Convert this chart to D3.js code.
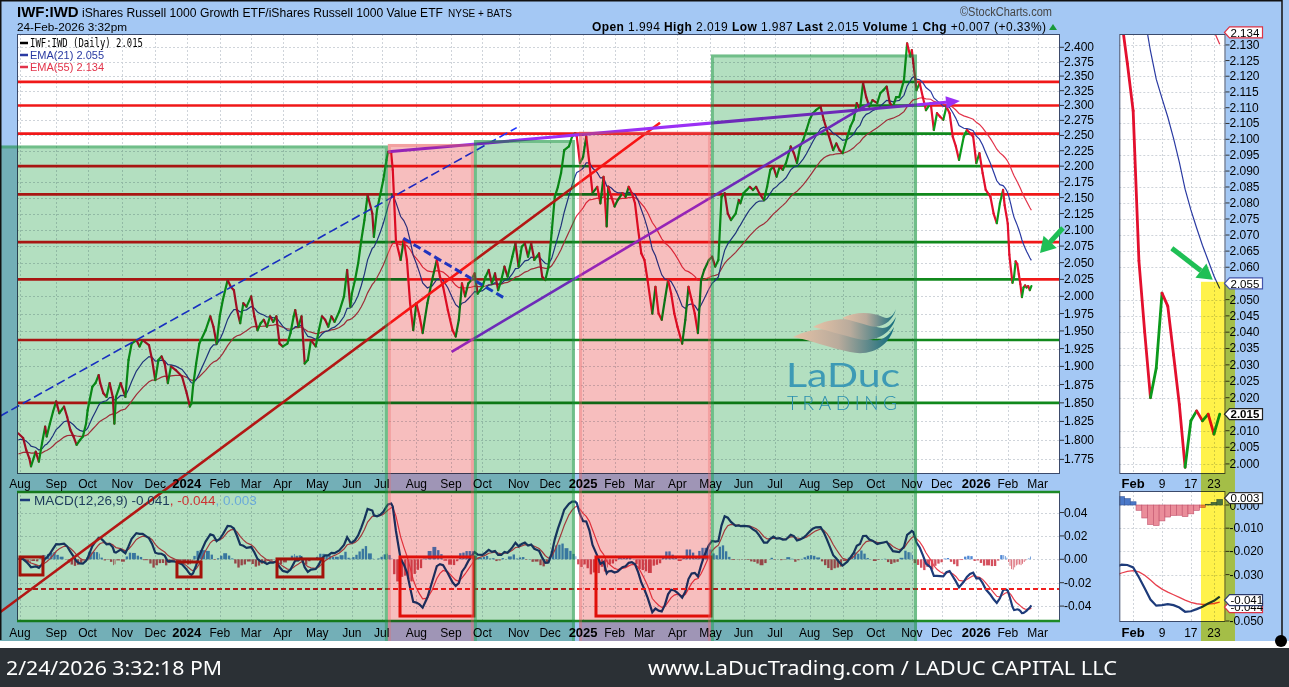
<!DOCTYPE html>
<html><head><meta charset="utf-8">
<script src="https://cdn.jsdelivr.net/npm/d3@7/dist/d3.min.js"></script>
<style>
html,body{margin:0;padding:0;background:#fff;}
svg{display:block;font-family:"Liberation Sans",Arial,sans-serif;}
</style></head>
<body><svg id="chart" width="1289" height="687"></svg>
<script>
// ======================= DATA =======================
// [trading-day index (0 = 1-Aug-2023), IWF:IWD close]
const ratioCloses = [[-1,1.809],[2,1.803],[4,1.787],[6,1.776],[7,1.766],[10,1.785],[12,1.772],[14,1.796],[16,1.818],[17,1.805],
[19,1.822],[21,1.838],[23,1.852],[25,1.836],[28,1.845],[30,1.831],[32,1.814],[34,1.805],[36,1.794],[38,1.800],
[40,1.805],[42,1.822],[43,1.840],[46,1.872],[48,1.877],[50,1.888],[51,1.877],[53,1.863],[55,1.858],[57,1.877],
[59,1.858],[60,1.822],[61,1.858],[64,1.877],[67,1.858],[69,1.909],[71,1.932],[74,1.937],[76,1.928],[78,1.937],
[82,1.930],[84,1.909],[86,1.881],[88,1.909],[90,1.914],[92,1.904],[94,1.877],[96,1.900],[99,1.895],[103,1.886],
[106,1.863],[108,1.845],[109,1.849],[110,1.872],[112,1.904],[114,1.932],[118,1.951],[121,1.971],[123,1.956],[125,1.932],
[127,1.971],[129,1.995],[132,2.024],[134,2.014],[136,2.009],[138,1.980],[140,1.961],[142,1.990],[144,1.985],[147,2.000],
[149,1.971],[151,1.951],[153,1.961],[155,1.966],[157,1.956],[159,1.971],[161,1.963],[163,1.971],[165,1.932],[167,1.928],
[170,1.932],[172,1.947],[174,1.971],[175,1.980],[177,1.956],[179,1.971],[181,1.904],[183,1.909],[185,1.937],[188,1.928],
[190,1.951],[192,1.971],[194,1.966],[196,1.956],[198,1.971],[200,1.963],[203,1.978],[206,2.000],[208,2.039],[210,1.985],
[211,2.004],[213,2.024],[215,2.049],[217,2.084],[219,2.115],[221,2.154],[224,2.125],[225,2.089],[227,2.131],[229,2.154],
[231,2.178],[233,2.210],[234,2.223],[236,2.221],[237,2.194],[239,2.084],[242,2.054],[244,2.084],[246,2.054],[248,1.990],
[250,1.951],[252,1.990],[254,1.971],[256,1.947],[259,1.990],[262,2.024],[265,2.054],[267,2.029],[269,2.014],[272,1.980],
[275,1.951],[277,1.942],[279,1.966],[281,2.019],[283,2.000],[285,2.019],[287,2.024],[289,2.034],[291,2.004],[294,2.014],
[296,2.029],[298,2.039],[300,2.019],[302,2.034],[304,2.009],[306,2.024],[308,2.044],[310,2.029],[313,2.059],[315,2.079],
[317,2.044],[319,2.074],[321,2.079],[323,2.059],[325,2.079],[327,2.054],[330,2.064],[332,2.029],[334,2.024],[336,2.044],
[338,2.095],[340,2.151],[342,2.167],[344,2.189],[346,2.226],[349,2.232],[351,2.248],[353,2.254],[354,2.248],[356,2.205],
[358,2.215],[360,2.248],[362,2.205],[364,2.157],[367,2.167],[369,2.141],[371,2.183],[373,2.105],[374,2.167],[376,2.151],
[378,2.136],[380,2.146],[383,2.157],[385,2.151],[387,2.167],[389,2.157],[391,2.141],[393,2.100],[395,2.064],[397,2.054],
[399,2.024],[402,1.975],[404,2.014],[406,1.975],[408,1.966],[410,1.995],[412,2.024],[414,2.004],[416,1.975],[418,1.956],
[421,1.932],[423,1.966],[425,2.014],[427,1.995],[429,1.975],[431,1.947],[433,2.024],[435,2.039],[438,2.054],[440,2.059],
[442,2.044],[444,2.054],[446,2.151],[448,2.157],[450,2.125],[452,2.115],[455,2.125],[457,2.146],[458,2.141],[460,2.157],
[462,2.162],[464,2.167],[466,2.162],[468,2.167],[470,2.157],[473,2.146],[475,2.167],[477,2.194],[479,2.199],[481,2.183],
[483,2.199],[485,2.194],[487,2.205],[490,2.232],[492,2.221],[494,2.205],[496,2.232],[498,2.243],[500,2.259],[502,2.276],
[504,2.287],[506,2.292],[509,2.298],[511,2.276],[513,2.259],[515,2.243],[517,2.226],[519,2.237],[521,2.226],[523,2.221],
[526,2.248],[528,2.265],[530,2.276],[532,2.304],[534,2.292],[536,2.338],[538,2.314],[540,2.298],[542,2.309],[545,2.304],
[547,2.321],[549,2.326],[551,2.332],[553,2.304],[555,2.298],[557,2.314],[559,2.314],[562,2.343],[564,2.407],[566,2.384],
[567,2.395],[568,2.372],[570,2.326],[572,2.338],[574,2.314],[576,2.292],[579,2.304],[581,2.259],[583,2.287],[585,2.281],
[587,2.276],[589,2.298],[591,2.287],[593,2.248],[595,2.232],[597,2.210],[600,2.248],[602,2.259],[604,2.254],[606,2.248],
[608,2.205],[610,2.221],[612,2.189],[614,2.162],[617,2.151],[619,2.125],[621,2.110],[623,2.141],[625,2.162],
[626,2.138],[627,2.124],[628,2.109],[629,2.062],[630,2.040],[631,2.020],[632,2.029],[633,2.052],[634,2.048],[635,2.033],
[636,2.018],[637,1.999],[638,2.013],[639,2.016],[640,2.013],[641,2.015],[642,2.009],[643,2.015]];

// EMA seeds (values of EMA21, EMA55, EMA12, EMA26, signal at chart start)
const emaSeeds = [1.800, 1.781, 1.803, 1.803, 0.000];

// x axis: first trading day of each month
const monthTickDays   = [0,23,43,65,86,106,127,147,167,189,211,230,252,274,294,317,337,358,378,397,418,439,460,480,502,523,544,567,586,608,628,647];
const monthTickLabels = ["Aug","Sep","Oct","Nov","Dec","2024","Feb","Mar","Apr","May","Jun","Jul","Aug","Sep","Oct","Nov","Dec","2025","Feb","Mar","Apr","May","Jun","Jul","Aug","Sep","Oct","Nov","Dec","2026","Feb","Mar"];
const priceAxisTicks = [1.775,1.800,1.825,1.850,1.875,1.900,1.925,1.950,1.975,2.000,2.025,2.050,2.075,2.100,2.125,2.150,2.175,2.200,2.225,2.250,2.275,2.300,2.325,2.350,2.375,2.400];
const macdAxisTicks = [-0.04,-0.02,0,0.02,0.04];

const mainDayDomain   = [-1.9, 661.2];
const mainPriceDomain = [1.7561, 2.4235];
const macdDomain      = [-0.0536, 0.0584];

// inset (last weeks)
const miniDayDomain   = [625.6, 644];
const miniPriceDomain = [1.99697, 2.1335];
const miniMacdDomain  = [-0.05043, 0.00603];
const miniDayTicks  = [628,633,638,642];
const miniDayLabels = ["Feb","9","17","23"];
// 2.055 and 2.015 sit under the value flags
const miniPriceTicks = [2.000,2.005,2.010,2.020,2.025,2.030,2.035,2.040,2.045,2.050,2.060,2.065,2.070,2.075,2.080,2.085,2.090,2.095,2.100,2.105,2.110,2.115,2.120,2.125,2.130];
const miniMacdTicks = [0,-0.01,-0.02,-0.03,-0.05];

// last values shown in legends / flags
const lastClose = 2.015, lastEma21 = 2.055, lastEma55 = 2.134;
const lastMacd = -0.041, lastSignal = -0.044, lastHist = 0.003;
const quoteLabels = ["Open","High","Low","Last","Volume","Chg"];
const quoteValues = ["1.994","2.019","1.987","2.015","1","+0.007 (+0.33%)"];

// annotations (day index, price)
const levelLines = [2.340,2.300,2.253,2.200,2.155,2.081,2.025,1.937,1.850];
const zoneKinds = ["green","red","green","red","green"];
const zoneStart = [-14, 233.9, 288.6, 355.4, 439.3];
const zoneEnd   = [233.9, 288.6, 352.8, 439.3, 570.3];
const zoneTop   = [2.2335, 2.2361, 2.2425, 2.2562, 2.3874];
const trendLines = [
  {kind:"blueDash",  a:[-12.7,1.832], b:[315.8,2.263]},
  {kind:"red",       a:[-12.7,1.587], b:[406.9,2.271]},
  {kind:"purple",    a:[274.4,1.9205], b:[540.4,2.304]},
  {kind:"purpleArrow",a:[234.1,2.2234], b:[597.6,2.3075]},
  {kind:"blueDashBold",a:[243.7,2.0868], b:[308.3,1.997]}
];
const macdAlertLevel = -0.0254;
const macdBoxes = [[0,14.6,0.002,-0.0134],[99.8,115.1,-0.0023,-0.0151],[163.4,192.6,0.0003,-0.0151],[241.6,288.6,0.002,-0.0485],[366.2,439.3,0.002,-0.0485]];
const mainArrow = {tail:[663.1,2.1026], tip:[648.5,2.0645]};
const miniArrow = {tail:[634.7,2.0659], tip:[641.8,2.0561]};
const miniHighlight = {from:639.75, top:2.0555};

// ======================= DRAW =======================
const svg = d3.select("#chart");
const defs = svg.append("defs");
const MAIN = {l:17, r:1060, t:34, b:474};
const MACD = {t:491, b:622};
const MINI = {l:1119.3, r:1225.5};
const BGB = 641;
const C = {bg:"#a4c8f4", border:"#3b4a6b", grid:"#cfd4da", up:"#0c9a1c", down:"#e3102e",
  ema21:"#2a3aa2", ema55:"#e2334a", levUp:"#11891c", levDn:"#f01818",
  macd:"#1d3b7a", signal:"#e8404e", histUp:"#5088d4", histDn:"#d4505e"};

const x  = d3.scaleLinear().domain(mainDayDomain).range([MAIN.l, MAIN.r]);
const y  = d3.scaleLog().domain(mainPriceDomain).range([MAIN.b, MAIN.t]);
const ym = d3.scaleLinear().domain(macdDomain).range([MACD.b, MACD.t]);
const xs = d3.scaleLinear().domain(miniDayDomain).range([MINI.l, MINI.r]);
const ys = d3.scaleLog().domain(miniPriceDomain).range([MAIN.b, MAIN.t]);
const yms= d3.scaleLinear().domain(miniMacdDomain).range([MACD.b, MACD.t]);

const days = ratioCloses.map(d=>d[0]), closes = ratioCloses.map(d=>d[1]);
function ema(values, n, seed){
  const a = 2/(n+1); let e = seed;
  return values.map((v,k)=>{ const g = k ? days[k]-days[k-1] : 1; e += (1-Math.pow(1-a,g))*(v-e); return e; });
}
const ema21 = ema(closes,21,emaSeeds[0]);
const ema55 = ema(closes,55,emaSeeds[1]);
const ema12 = ema(closes,12,emaSeeds[2]);
const ema26 = ema(closes,26,emaSeeds[3]);
const macd = ema12.map((v,k)=>v-ema26[k]);
const signal = ema(macd,9,emaSeeds[4]);
const hist = macd.map((v,k)=>v-signal[k]);

function clip(id,x0,y0,x1,y1){defs.append("clipPath").attr("id",id).append("rect").attr("x",x0).attr("y",y0).attr("width",x1-x0).attr("height",y1-y0);}
clip("cMain",MAIN.l,MAIN.t,MAIN.r,MAIN.b); clip("cMacd",MAIN.l,MACD.t,MAIN.r,MACD.b);
clip("cMini",MINI.l,MAIN.t,MINI.r,MAIN.b); clip("cMiniM",MINI.l,MACD.t,MINI.r,MACD.b);

// background
svg.append("rect").attr("width",1289).attr("height",BGB).attr("fill",C.bg);
svg.append("rect").attr("y",BGB).attr("width",1289).attr("height",7).attr("fill","#fff");
svg.append("rect").attr("y",648).attr("width",1289).attr("height",39).attr("fill","#2b3035");
const panels = [[MAIN.l,MAIN.t,MAIN.r,MAIN.b],[MAIN.l,MACD.t,MAIN.r,MACD.b],[MINI.l,MAIN.t,MINI.r,MAIN.b],[MINI.l,MACD.t,MINI.r,MACD.b]];
panels.forEach(p=>svg.append("rect").attr("x",p[0]).attr("y",p[1]).attr("width",p[2]-p[0]).attr("height",p[3]-p[1]).attr("fill","#fff"));

// grid
const grid = svg.append("g").attr("stroke",C.grid).attr("stroke-dasharray","2,2").attr("stroke-width",1);
function hl(g,x1,x2,yy){return g.append("line").attr("x1",x1).attr("x2",x2).attr("y1",yy).attr("y2",yy);}
function vl(g,xx,y1,y2){return g.append("line").attr("x1",xx).attr("x2",xx).attr("y1",y1).attr("y2",y2);}
monthTickDays.forEach(d=>{const xx=Math.round(x(d))+0.5; vl(grid,xx,MAIN.t,MAIN.b); vl(grid,xx,MACD.t,MACD.b);});
priceAxisTicks.forEach(v=>hl(grid,MAIN.l,MAIN.r,Math.round(y(v))+0.5));
macdAxisTicks.forEach(v=>hl(grid,MAIN.l,MAIN.r,Math.round(ym(v))+0.5));
miniDayTicks.forEach(d=>{const xx=Math.round(xs(d))+0.5; vl(grid,xx,MAIN.t,MAIN.b); vl(grid,xx,MACD.t,MACD.b);});
miniPriceTicks.forEach(v=>hl(grid,MINI.l,MINI.r,Math.round(ys(v))+0.5));
miniMacdTicks.forEach(v=>hl(grid,MINI.l,MINI.r,Math.round(yms(v))+0.5));

// horizontal support / resistance levels (green where price is above)
const gLev = svg.append("g").attr("clip-path","url(#cMain)");
levelLines.forEach(L=>{
  const yy = y(L); const runs=[];
  const push=(x0,x1,up)=>{const last=runs[runs.length-1]; if(last&&last.up===up) last.x1=x1; else runs.push({x0,x1,up});};
  push(MAIN.l, x(days[0]), closes[0]>=L);
  for(let k=1;k<days.length;k++) push(x(days[k-1]),x(days[k]),(closes[k-1]+closes[k])/2>=L);
  push(x(days[days.length-1]),MAIN.r,closes[closes.length-1]>=L);
  runs.forEach(r=>gLev.append("line").attr("x1",r.x0).attr("x2",r.x1).attr("y1",yy).attr("y2",yy)
    .attr("stroke",r.up?C.levUp:C.levDn).attr("stroke-width",2.6));
});

// EMAs and price (main)
const gP = svg.append("g").attr("clip-path","url(#cMain)");
const lineOf=(sx,sy)=>d3.line().x((d,k)=>sx(days[k])).y(d=>sy(d));
gP.append("path").attr("d",lineOf(x,y)(ema55)).attr("fill","none").attr("stroke",C.ema55).attr("stroke-width",1.2);
gP.append("path").attr("d",lineOf(x,y)(ema21)).attr("fill","none").attr("stroke",C.ema21).attr("stroke-width",1.2);
function priceSegs(g,sx,sy,w){
  for(let k=1;k<days.length;k++){
    g.append("line").attr("x1",sx(days[k-1])).attr("y1",sy(closes[k-1])).attr("x2",sx(days[k])).attr("y2",sy(closes[k]))
     .attr("stroke",closes[k]>=closes[k-1]?C.up:C.down).attr("stroke-width",w).attr("stroke-linecap","round");
  }
}
priceSegs(gP,x,y,2.2);

// MACD main
const gM = svg.append("g").attr("clip-path","url(#cMacd)");
for(let k=1;k<days.length;k++){
  const x0=x(days[k-1]), x1=x(days[k]), h=hist[k];
  gM.append("rect").attr("x",x0+0.3).attr("width",Math.max(0.7,x1-x0-0.8))
    .attr("y",Math.min(ym(h),ym(0))).attr("height",Math.abs(ym(h)-ym(0)))
    .attr("fill",h>=0?C.histUp:C.histDn);
}
gM.append("path").attr("d",lineOf(x,ym)(signal)).attr("fill","none").attr("stroke",C.signal).attr("stroke-width",1.2);
gM.append("path").attr("d",lineOf(x,ym)(macd)).attr("fill","none").attr("stroke",C.macd).attr("stroke-width",2.2);
hl(svg,MAIN.l,MAIN.r,ym(macdAlertLevel)).attr("stroke","#f02020").attr("stroke-width",2).attr("stroke-dasharray","5,3");

// inset price
const gS = svg.append("g").attr("clip-path","url(#cMini)");
gS.append("path").attr("d",lineOf(xs,ys)(ema55)).attr("fill","none").attr("stroke",C.ema55).attr("stroke-width",1.2);
gS.append("path").attr("d",lineOf(xs,ys)(ema21)).attr("fill","none").attr("stroke",C.ema21).attr("stroke-width",1.2);
priceSegs(gS,xs,ys,2.8);
// inset MACD
const gSM = svg.append("g").attr("clip-path","url(#cMiniM)");
for(let k=1;k<days.length;k++){
  if(days[k]<miniDayDomain[0]-1) continue;
  const xc=xs(days[k]), h=hist[k];
  gSM.append("rect").attr("x",xc-2.9).attr("width",5.8).attr("y",Math.min(yms(h),yms(0))).attr("height",Math.abs(yms(h)-yms(0)))
    .attr("fill",h>=0?"#4a78c8":"#ea8d9a").attr("stroke",h>=0?"#34569a":"#c0506a").attr("stroke-width",0.6);
}
gSM.append("path").attr("d",lineOf(xs,yms)(signal)).attr("fill","none").attr("stroke",C.signal).attr("stroke-width",1.3);
gSM.append("path").attr("d",lineOf(xs,yms)(macd)).attr("fill","none").attr("stroke",C.macd).attr("stroke-width",2.2);

// arrow head helper
function head(g,x1,y1,x2,y2,len,half,color){
  const a=Math.atan2(y2-y1,x2-x1), bx=x2-len*Math.cos(a), by=y2-len*Math.sin(a);
  const px=-Math.sin(a)*half, py=Math.cos(a)*half;
  g.append("path").attr("d",`M${x2},${y2}L${bx+px},${by+py}L${bx-px},${by-py}Z`).attr("fill",color);
  return [bx,by];
}

// trend lines
const gT = svg.append("g");
const tStyle = {blueDash:["#2035ff",1.6,"9,4"], red:["#ff1a1a",2.6,null], purple:["#9b30f5",2.6,null],
  purpleArrow:["#9b30f5",3,null], blueDashBold:["#2244ff",3,"8,4"]};
trendLines.forEach(t=>{
  const s=tStyle[t.kind]; let x1=x(t.a[0]),y1=y(t.a[1]),x2=x(t.b[0]),y2=y(t.b[1]);
  if(t.kind==="purpleArrow"){ const b=head(gT,x1,y1,x2,y2,14,6,s[0]); x2=b[0]; y2=b[1]; }
  const l=gT.append("line").attr("x1",x1).attr("y1",y1).attr("x2",x2).attr("y2",y2).attr("stroke",s[0]).attr("stroke-width",s[1]);
  if(s[2]) l.attr("stroke-dasharray",s[2]);
});
macdBoxes.forEach(b=>{
  gT.append("rect").attr("x",x(b[0])).attr("y",ym(b[2])).attr("width",x(b[1])-x(b[0])).attr("height",ym(b[3])-ym(b[2]))
    .attr("fill","none").attr("stroke","#e8140c").attr("stroke-width",3);
});

// panel borders
const gB = svg.append("g").attr("fill","none").attr("stroke",C.border).attr("stroke-width",1);
[[MAIN.l,MAIN.t,MAIN.r,MAIN.b],[MINI.l,MAIN.t,MINI.r,MAIN.b],[MINI.l,MACD.t,MINI.r,MACD.b]].forEach(p=>
  gB.append("rect").attr("x",p[0]+0.5).attr("y",p[1]+0.5).attr("width",p[2]-p[0]-1).attr("height",p[3]-p[1]-1));
vl(gB,MAIN.l+0.5,MACD.t,MACD.b); vl(gB,MAIN.r-0.5,MACD.t,MACD.b);
const gGr = svg.append("g").attr("stroke","#1d8a26").attr("stroke-width",2.6);
hl(gGr,MAIN.l,MAIN.r,MACD.t+1); hl(gGr,MAIN.l,MAIN.r,MACD.b-1);

// shaded zones (multiply fills, inset translucent edges)
const zoneFill={green:"#b3dfc0",red:"#f7bebe"}, zoneEdge={green:"rgba(30,150,70,0.45)",red:"rgba(235,110,110,0.35)"};
zoneKinds.forEach((k,i)=>{
  const x0=Math.max(0,x(zoneStart[i])), x1=x(zoneEnd[i]), y0=y(zoneTop[i]);
  svg.append("rect").attr("x",x0).attr("y",y0).attr("width",x1-x0).attr("height",BGB-y0)
    .attr("fill",zoneFill[k]).style("mix-blend-mode","multiply");
  const e0 = x0<1 ? -5 : x0+1.5;
  svg.append("path").attr("d",`M${e0},${BGB}V${y0+1.5}H${x1-1.5}V${BGB}`).attr("fill","none")
    .attr("stroke",zoneEdge[k]).attr("stroke-width",3);
});

// axes text
const gA = svg.append("g").attr("font-size",12).attr("fill","#000");
const gTk = svg.append("g").attr("stroke","#333");
priceAxisTicks.forEach(v=>{const yy=y(v); hl(gTk,MAIN.r,MAIN.r+4,yy);
  gA.append("text").attr("x",MAIN.r+4).attr("y",yy+4).text(v.toFixed(3));});
macdAxisTicks.forEach(v=>{const yy=ym(v); hl(gTk,MAIN.r,MAIN.r+4,yy);
  gA.append("text").attr("x",MAIN.r+4).attr("y",yy+4).text(v.toFixed(2));});
miniPriceTicks.forEach(v=>{const yy=ys(v); hl(gTk,MINI.r,MINI.r+4,yy);
  gA.append("text").attr("x",MINI.r+4).attr("y",yy+4).text(v.toFixed(3));});
miniMacdTicks.forEach(v=>{const yy=yms(v); hl(gTk,MINI.r,MINI.r+4,yy);
  gA.append("text").attr("x",MINI.r+4).attr("y",yy+(v===0?5:4)).text(v.toFixed(3));});
monthTickDays.forEach((d,k)=>{const lbl=monthTickLabels[k], yr=/^\d{4}$/.test(lbl);
  [488,637].forEach(yy=>gA.append("text").attr("x",x(d)).attr("y",yy).attr("text-anchor","middle")
    .attr("font-weight",yr?"bold":"normal").attr("font-size",yr?13:12).text(lbl));});
miniDayTicks.forEach((d,k)=>{const lbl=miniDayLabels[k], b=k===0;
  [488,637].forEach(yy=>gA.append("text").attr("x",xs(d)).attr("y",yy).attr("text-anchor","middle")
    .attr("font-weight",b?"bold":"normal").attr("font-size",b?13:12).text(lbl));});

// header
const gH = svg.append("g").attr("fill","#000");
gH.append("text").attr("x",17).attr("y",17).attr("font-size",15).attr("font-weight","bold").text("IWF:IWD");
gH.append("text").attr("x",82).attr("y",17).attr("font-size",12).attr("textLength",361).attr("lengthAdjust","spacingAndGlyphs").text("iShares Russell 1000 Growth ETF/iShares Russell 1000 Value ETF");
gH.append("text").attr("x",448).attr("y",17).attr("font-size",10).text("NYSE + BATS");
gH.append("text").attr("x",17).attr("y",31).attr("font-size",11).attr("textLength",110).attr("lengthAdjust","spacingAndGlyphs").text("24-Feb-2026 3:32pm");
gH.append("text").attr("x",960).attr("y",16).attr("font-size",12).attr("fill","#444").attr("textLength",92).attr("lengthAdjust","spacingAndGlyphs").text("©StockCharts.com");
const q = gH.append("text").attr("x",592).attr("y",31).attr("font-size",12).attr("textLength",454).attr("lengthAdjust","spacing");
quoteLabels.forEach((l,i)=>{q.append("tspan").attr("font-weight","bold").text((i?" ":"")+l+" "); q.append("tspan").text(quoteValues[i]);});
gH.append("path").attr("d","M1049,30 L1057,30 L1053,24 Z").attr("fill","#1a9a3a");

// legends
const gL = svg.append("g");
const leg=[["IWF:IWD (Daily) "+lastClose.toFixed(3),"#000",47,"DejaVu Sans Mono, monospace",11.5,113],
  ["EMA(21) "+lastEma21.toFixed(3),C.ema21,59,"Liberation Sans, Arial",11,74],
  ["EMA(55) "+lastEma55.toFixed(3),C.ema55,71,"Liberation Sans, Arial",11,74]];
leg.forEach(l=>{gL.append("line").attr("x1",20).attr("x2",28).attr("y1",l[2]-4).attr("y2",l[2]-4).attr("stroke",l[1]).attr("stroke-width",2.5);
  gL.append("text").attr("x",30).attr("y",l[2]).attr("fill",l[1]).attr("font-family",l[3]).attr("font-size",l[4])
    .attr("textLength",l[5]).attr("lengthAdjust","spacingAndGlyphs").text(l[0]);});
gL.append("line").attr("x1",20).attr("x2",30).attr("y1",500).attr("y2",500).attr("stroke",C.macd).attr("stroke-width",2.5);
const mt=gL.append("text").attr("x",34).attr("y",505).attr("font-size",13.5);
mt.append("tspan").attr("fill","#1c3a5a").text("MACD(12,26,9) "+lastMacd.toFixed(3));
mt.append("tspan").attr("fill","#cc3333").text(", "+lastSignal.toFixed(3));
mt.append("tspan").attr("fill","#6aaad8").text(", "+lastHist.toFixed(3));

// logo watermark
const gr = defs.append("linearGradient").attr("id","wv").attr("x1","0").attr("x2","1").attr("y1","0").attr("y2","0");
gr.append("stop").attr("offset","0").attr("stop-color","#e6c2a6");
gr.append("stop").attr("offset","0.45").attr("stop-color","#b9ab9c");
gr.append("stop").attr("offset","1").attr("stop-color","#0e6b7c");
const gLogo = svg.append("g");
["M793,337 C815,325 845,328 865,338 C878,344 888,338 894,327 C890,345 872,357 850,352 C830,348 810,340 793,337 Z",
 "M813,327 C833,316 858,318 875,326 C885,331 891,326 896,317 C892,333 876,343 858,339 C842,335 826,330 813,327 Z",
 "M842,318 C856,311 872,312 883,317 C889,320 893,316 896,309 C893,321 882,329 870,326 C860,323 850,320 842,318 Z"]
 .forEach(d=>gLogo.append("path").attr("d",d).attr("fill","url(#wv)"));
gLogo.append("text").attr("x",786).attr("y",387).attr("font-family","Lato, Noto Sans, sans-serif").attr("font-size",33)
  .attr("fill","#3d9ab5").attr("textLength",114).attr("lengthAdjust","spacingAndGlyphs").text("LaDuc");
gLogo.append("text").attr("x",787).attr("y",410).attr("font-family","Lato, Noto Sans, sans-serif").attr("font-weight",300).attr("font-size",19)
  .attr("fill","#2b8fae").attr("textLength",110).attr("lengthAdjust","spacing").text("TRADING");

// yellow highlight on inset (multiply)
svg.append("rect").attr("x",xs(miniHighlight.from)).attr("y",ys(miniHighlight.top)).attr("width",34)
  .attr("height",BGB-ys(miniHighlight.top)).attr("fill","#fff24a").style("mix-blend-mode","multiply");

// green arrows
function garrow(t1,t2){const b=head(svg,t1[0],t1[1],t2[0],t2[1],15,9,"#1fbf55");
  svg.append("line").attr("x1",t1[0]).attr("y1",t1[1]).attr("x2",b[0]).attr("y2",b[1]).attr("stroke","#1fbf55").attr("stroke-width",5);}
garrow([x(mainArrow.tail[0]),y(mainArrow.tail[1])],[x(mainArrow.tip[0]),y(mainArrow.tip[1])]);
garrow([xs(miniArrow.tail[0]),ys(miniArrow.tail[1])],[xs(miniArrow.tip[0]),ys(miniArrow.tip[1])]);

// value flags
function flag(yc,txt,stroke,bold){
  const x0=MINI.r-1;
  svg.append("path").attr("d",`M${x0},${yc}L${x0+5},${yc-5.5}H${x0+38}V${yc+5.5}H${x0+5}Z`).attr("fill","#fff").attr("stroke",stroke).attr("stroke-width",1.2);
  svg.append("text").attr("x",x0+6).attr("y",yc+4.2).attr("font-size",11.5).attr("font-weight",bold?"bold":"normal").text(txt);
}
flag(ys(lastEma55),lastEma55.toFixed(3),"#dd3344",false);
flag(ys(lastEma21),lastEma21.toFixed(3),"#4455aa",false);
flag(ys(lastClose),lastClose.toFixed(3),"#222",true);
flag(yms(lastHist),lastHist.toFixed(3),"#333",false);
flag(yms(lastSignal),lastSignal.toFixed(3),"#dd3344",false);
flag(yms(lastMacd),lastMacd.toFixed(3),"#2a3a6a",false);

// outer frame
svg.append("path").attr("d","M0.75,640 V0.75 H1282 V638").attr("fill","none").attr("stroke","#111").attr("stroke-width",1.5);
svg.append("circle").attr("cx",1281).attr("cy",641).attr("r",6).attr("fill","#000");

// footer
svg.append("text").attr("x",6).attr("y",675).attr("fill","#fff").attr("font-family","Noto Sans, Open Sans, sans-serif").attr("font-size",20)
  .attr("textLength",216).attr("lengthAdjust","spacingAndGlyphs").text("2/24/2026 3:32:18 PM");
svg.append("text").attr("x",648).attr("y",675).attr("fill","#fff").attr("font-family","Noto Sans, Open Sans, sans-serif").attr("font-size",20)
  .attr("textLength",469).attr("lengthAdjust","spacingAndGlyphs").text("www.LaDucTrading.com / LADUC CAPITAL LLC");
</script></body></html>
